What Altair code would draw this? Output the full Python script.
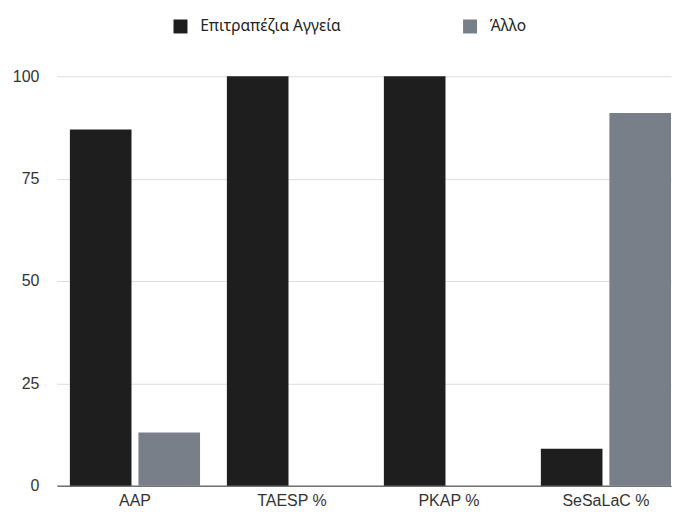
import altair as alt
import pandas as pd

categories = ["AAP", "TAESP %", "PKAP %", "SeSaLaC %"]
series = ["Επιτραπέζια Αγγεία", "Άλλο"]
values_main = [87, 100, 100, 9]
values_other = [13, 0, 0, 91]
colors = ["#1e1e1e", "#787f89"]
y_ticks = [0, 25, 50, 75, 100]

rows = []
for c, a, b in zip(categories, values_main, values_other):
    rows.append({"cat": c, "series": series[0], "value": a})
    rows.append({"cat": c, "series": series[1], "value": b})
df = pd.DataFrame(rows)

font = "Liberation Sans"

chart = alt.Chart(df).mark_bar().encode(
    x=alt.X("cat:N", sort=categories, title=None,
            scale=alt.Scale(paddingInner=0.171, paddingOuter=0.0413, align=1.0),
            axis=alt.Axis(labelAngle=0, ticks=False, domain=True, domainColor="#333333",
                          labelFontSize=16, labelColor="#333333", labelPadding=7,
                          labelFont=font, grid=False)),
    xOffset=alt.XOffset("series:N", sort=series, scale=alt.Scale(paddingInner=0.101, paddingOuter=0)),
    y=alt.Y("value:Q", title=None, scale=alt.Scale(domain=[0, 100], nice=False),
            axis=alt.Axis(values=y_ticks, domain=False, ticks=False, grid=True,
                          gridColor="#dddddd", labelFontSize=16, labelColor="#333333",
                          labelPadding=18, labelFont=font)),
    color=alt.Color("series:N", sort=series,
                    scale=alt.Scale(domain=series, range=colors),
                    legend=alt.Legend(title=None, orient="none", direction="horizontal",
                                      legendX=116, legendY=-58, symbolType="square",
                                      symbolSize=196, symbolStrokeWidth=0, labelFontSize=15.5,
                                      labelFont="Noto Sans", labelColor="#222222", labelOffset=12,
                                      columnPadding=121, padding=0)),
).properties(
    width=615, height=410,
    padding={"left": 4, "top": 10, "right": 0, "bottom": 0},
).configure_view(stroke=None)

chart.save("out.html", embed_options={"renderer": "svg", "actions": False})
